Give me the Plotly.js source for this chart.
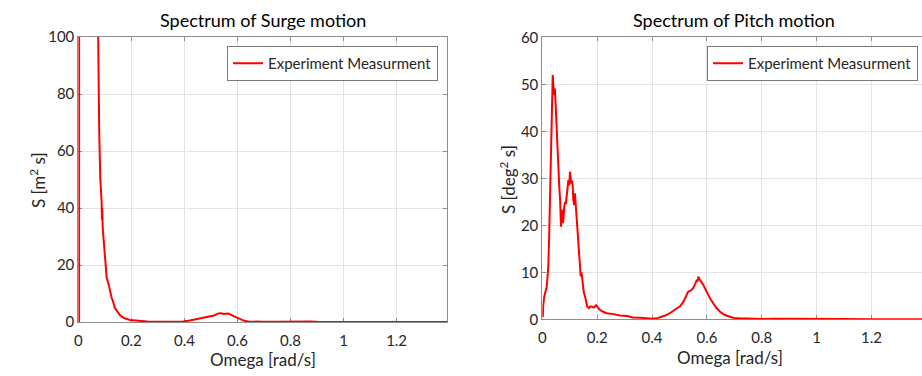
<!DOCTYPE html>
<html>
<head>
<meta charset="utf-8">
<script src="https://cdn.plot.ly/plotly-3.0.1.min.js"></script>
<style>html,body{margin:0;padding:0;overflow:hidden;background:#fff;}</style>
</head>
<body>
<div id="chart" style="width:922px;height:376px;"></div>
<script>
// Surge spectrum (left)
const surgeOmega = [0.003, 0.004, 0.02, 0.04, 0.06, 0.07, 0.0755, 0.077, 0.079, 0.083, 0.086, 0.088, 0.089, 0.090, 0.092, 0.095, 0.098, 0.101, 0.104, 0.107, 0.112, 0.117, 0.122, 0.126, 0.131, 0.138, 0.145, 0.152, 0.158, 0.164, 0.175, 0.195, 0.215, 0.233, 0.26, 0.3, 0.34, 0.37, 0.396, 0.42, 0.44, 0.459, 0.48, 0.497, 0.512, 0.528, 0.538, 0.547, 0.557, 0.566, 0.578, 0.59, 0.598, 0.61, 0.623, 0.64, 0.66, 0.7, 0.75, 0.8, 0.83, 0.85, 0.87, 0.9, 1.0, 1.1, 1.2, 1.3, 1.39];
const surgeS     = [0, 2000, 1500, 700, 250, 140, 100, 72, 66, 50, 46, 42, 36, 40, 33, 29, 26, 24, 19, 15.4, 14, 12, 9.5, 8.4, 7.2, 4.9, 4.0, 3.0, 2.3, 1.9, 1.3, 0.7, 0.5, 0.3, 0.15, 0.05, 0.05, 0.1, 0.2, 0.5, 0.9, 1.3, 1.6, 1.9, 2.3, 3.0, 3.1, 2.8, 2.9, 3.0, 2.4, 1.9, 1.7, 1.0, 0.5, 0.2, 0.08, 0.05, 0.1, 0.2, 0.3, 0.25, 0.2, 0.05, 0.02, 0.02, 0.01, 0.01, 0.01];

// Pitch spectrum (right)
const pitchOmega = [0.002, 0.003, 0.007, 0.012, 0.016, 0.019, 0.022, 0.025, 0.028, 0.031, 0.034, 0.036, 0.038, 0.040, 0.043, 0.046, 0.048, 0.050, 0.053, 0.055, 0.058, 0.062, 0.065, 0.068, 0.070, 0.073, 0.075, 0.077, 0.080, 0.083, 0.086, 0.089, 0.092, 0.095, 0.098, 0.101, 0.103, 0.105, 0.108, 0.111, 0.113, 0.116, 0.119, 0.121, 0.123, 0.126, 0.128, 0.131, 0.135, 0.138, 0.140, 0.143, 0.147, 0.151, 0.156, 0.160, 0.164, 0.170, 0.175, 0.180, 0.188, 0.196, 0.203, 0.21, 0.222, 0.235, 0.26, 0.283, 0.31, 0.33, 0.36, 0.4, 0.417, 0.435, 0.453, 0.47, 0.49, 0.503, 0.514, 0.524, 0.532, 0.541, 0.55, 0.557, 0.563, 0.566, 0.569, 0.572, 0.575, 0.58, 0.587, 0.595, 0.605, 0.614, 0.623, 0.635, 0.648, 0.665, 0.684, 0.7, 0.72, 0.75, 0.8, 0.85, 0.9, 1.0, 1.1, 1.2, 1.3, 1.39];
const pitchS     = [0.5, 2.7, 4.8, 6.0, 6.9, 9.0, 11.5, 17.6, 25, 31.8, 42, 49.5, 52, 50, 47.7, 49.1, 46, 42.4, 39, 36.7, 32.5, 28, 25.4, 19.7, 22, 23.3, 20.5, 21.1, 24, 25, 24.5, 26.8, 28, 29.6, 28.5, 31.4, 30.5, 28.9, 29.5, 28.2, 25.5, 24.3, 26.8, 25, 24, 22, 19.7, 17, 14, 11, 9.1, 10, 6.9, 5.8, 4.8, 3.6, 2.7, 2.4, 2.7, 2.7, 2.5, 3.0, 2.5, 2.0, 1.6, 1.3, 1.1, 0.8, 0.7, 0.4, 0.35, 0.1, 0.2, 0.5, 0.9, 1.5, 2.3, 2.8, 3.7, 4.8, 5.9, 6.1, 6.6, 7.5, 8.4, 8.0, 9.1, 8.6, 8.4, 7.9, 7.3, 6.5, 5.2, 4.2, 3.4, 2.4, 1.6, 0.9, 0.55, 0.3, 0.2, 0.1, 0.05, 0.12, 0.08, 0.05, 0.04, 0.03, 0.02, 0.02];

const legendName = 'Experiment Measurment';
const xTicks = [0, 0.2, 0.4, 0.6, 0.8, 1, 1.2];
const xTickText = ['0', '0.2', '0.4', '0.6', '0.8', '1', '1.2'];
const surgeYTicks = [0, 20, 40, 60, 80, 100];
const pitchYTicks = [0, 10, 20, 30, 40, 50, 60];

const FONT = 'Lato, "Open Sans", "DejaVu Sans", sans-serif';
const TXT = '#262626';
const AX = '#8c8c8c';
const GRID = '#e3e3e3';

function xAxis(domain, range, anchor) {
  return {
    domain: domain, range: range, anchor: anchor,
    tickvals: xTicks, ticktext: xTickText,
    showgrid: true, gridcolor: GRID, gridwidth: 1,
    zeroline: false, showline: true, linecolor: AX, linewidth: 1, mirror: 'ticks',
    ticks: 'inside', ticklen: 4, tickcolor: AX,
    ticklabelstandoff: 5,
    tickfont: {family: FONT, size: 15, color: TXT},
    layer: 'below traces', fixedrange: true
  };
}
function yAxis(domain, range, ticks, anchor, mirror) {
  return {
    domain: domain, range: range, anchor: anchor,
    tickvals: ticks,
    showgrid: true, gridcolor: GRID, gridwidth: 1,
    zeroline: false, showline: true, linecolor: AX, linewidth: 1, mirror: mirror,
    ticks: 'inside', ticklen: 4, tickcolor: AX,
    tickfont: {family: FONT, size: 15, color: TXT},
    layer: 'below traces', fixedrange: true
  };
}

const W = 922, H = 376;
const data = [
  {x: surgeOmega, y: surgeS, type: 'scatter', mode: 'lines', name: legendName,
   line: {color: '#ff0000', width: 2}, xaxis: 'x', yaxis: 'y', legend: 'legend'},
  {x: pitchOmega, y: pitchS, type: 'scatter', mode: 'lines', name: legendName,
   line: {color: '#ff0000', width: 2}, xaxis: 'x2', yaxis: 'y2', legend: 'legend2'}
];

const leftDom = [78.3 / W, 447 / W];
const rightDom = [542.3 / W, 1];
const layout = {
  width: W, height: H,
  margin: {l: 0, r: 0, t: 0, b: 0},
  paper_bgcolor: '#ffffff', plot_bgcolor: '#ffffff',
  font: {family: FONT, color: TXT},
  showlegend: true,
  xaxis: xAxis(leftDom, [0, 1.39], 'y'),
  yaxis: yAxis([(H - 322) / H, (H - 37) / H], [0, 100], surgeYTicks, 'x', 'ticks'),
  xaxis2: xAxis(rightDom, [0, 1.384], 'y2'),
  yaxis2: yAxis([(H - 319.3) / H, (H - 37.3) / H], [0, 60], pitchYTicks, 'x2', false),
  legend: {x: 438 / W, y: 1 - 46 / H, xanchor: 'right', yanchor: 'top',
           bgcolor: '#ffffff', bordercolor: '#7a7a7a', borderwidth: 1,
           font: {family: FONT, size: 15, color: TXT}},
  legend2: {x: 918 / W, y: 1 - 46 / H, xanchor: 'right', yanchor: 'top',
           bgcolor: '#ffffff', bordercolor: '#7a7a7a', borderwidth: 1,
           font: {family: FONT, size: 15, color: TXT}},
  annotations: [
    {text: 'Spectrum of Surge motion', xref: 'paper', yref: 'paper', x: 262.6 / W, y: 1 - 20 / H,
     xanchor: 'center', yanchor: 'middle', showarrow: false, font: {family: FONT, size: 18, color: '#000'}},
    {text: 'Spectrum of Pitch motion', xref: 'paper', yref: 'paper', x: 734 / W, y: 1 - 20 / H,
     xanchor: 'center', yanchor: 'middle', showarrow: false, font: {family: FONT, size: 18, color: '#000'}},
    {text: 'Omega [rad/s]', xref: 'paper', yref: 'paper', x: 262.6 / W, y: 1 - 359 / H,
     xanchor: 'center', yanchor: 'middle', showarrow: false, font: {family: FONT, size: 17, color: TXT}},
    {text: 'Omega [rad/s]', xref: 'paper', yref: 'paper', x: 730 / W, y: 1 - 357 / H,
     xanchor: 'center', yanchor: 'middle', showarrow: false, font: {family: FONT, size: 17, color: TXT}},
    {text: 'S [m<sup>2</sup> s]', xref: 'paper', yref: 'paper', x: 37 / W, y: 1 - 180 / H, textangle: -90,
     xanchor: 'center', yanchor: 'middle', showarrow: false, font: {family: FONT, size: 17, color: TXT}},
    {text: 'S [deg<sup>2</sup> s]', xref: 'paper', yref: 'paper', x: 507 / W, y: 1 - 180 / H, textangle: -90,
     xanchor: 'center', yanchor: 'middle', showarrow: false, font: {family: FONT, size: 17, color: TXT}}
  ]
};

Plotly.newPlot('chart', data, layout, {staticPlot: true, displayModeBar: false});
</script>
</body>
</html>
